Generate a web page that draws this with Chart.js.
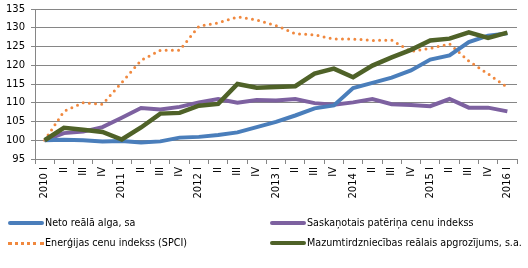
<!DOCTYPE html>
<html><head><meta charset="utf-8">
<script src="https://cdn.jsdelivr.net/npm/chart.js@4/dist/chart.umd.min.js"></script>
<style>
html,body{margin:0;padding:0;background:#fff;}
#wrap{position:relative;width:528px;height:268px;}
canvas{position:absolute;left:0;top:0;}
.lg{position:absolute;font:9.6px "DejaVu Sans",sans-serif;color:#000;white-space:nowrap;line-height:12px;}
.sw{position:absolute;width:36px;height:0;}
</style></head><body>
<div id="wrap"><canvas id="c" width="528" height="268"></canvas><div id="legend"></div></div>
<script>
const categories = ['2010 I','II','III','IV','2011 I','II','III','IV','2012 I','II','III','IV','2013 I','II','III','IV','2014 I','II','III','IV','2015 I','II','III','IV','2016 I'];
const seriesNames = ['Neto reālā alga, sa','Saskaņotais patēriņa cenu indekss','Enerģijas cenu indekss (SPCI)','Mazumtirdzniecības reālais apgrozījums, s.a.'];
const netoAlga = [100,100.1,100,99.7,99.8,99.4,99.7,100.7,100.9,101.4,102.1,103.5,104.9,106.6,108.5,109.3,113.9,115.3,116.7,118.6,121.5,122.6,126.2,127.9,128.5];
const spci = [100,101.9,102.3,103.5,106,108.6,108.2,108.9,110.1,111,110,110.7,110.6,111,109.9,109.5,110.1,111,109.6,109.4,109.1,111,108.7,108.7,107.7];
const energija = [100,107.7,110,109.6,115.4,121.3,124,124,130.4,131.3,132.9,132.1,130.6,128.4,128.1,127,127,126.6,126.7,123.7,124.5,125.7,121.1,117.7,114.1];
const mazumtirdz = [100,103.3,102.8,102.2,100.2,103.4,107.1,107.3,109.2,109.7,115,114,114.2,114.4,117.8,119.1,116.8,119.9,122.1,124.1,126.6,127.1,128.8,127.3,128.7];
const yTicks = {min:95, max:135, step:5};

const colors = ['#4A7EBB','#7D61A0','#F0883E','#4F6228'];
const FONT = {family:'"DejaVu Sans", sans-serif', size:10};

new Chart(document.getElementById('c'), {
  type:'line',
  data:{
    labels:categories,
    datasets:[
      {label:seriesNames[0], data:netoAlga, borderColor:colors[0], borderWidth:4, pointRadius:0, tension:0, order:1},
      {label:seriesNames[1], data:spci, borderColor:colors[1], borderWidth:4, pointRadius:0, tension:0, order:2},
      {label:seriesNames[2], data:energija, borderColor:colors[2], borderWidth:3, borderDash:[0,6.2], borderCapStyle:'round', pointRadius:0, tension:0, order:3},
      {label:seriesNames[3], data:mazumtirdz, borderColor:colors[3], borderWidth:4.5, pointRadius:0, tension:0, order:0}
    ]
  },
  options:{
    responsive:false, animation:false,
    layout:{padding:{left:0,right:11,top:9,bottom:59}},
    plugins:{legend:{display:false}, tooltip:{enabled:false}},
    scales:{
      x:{
        offset:true,
        grid:{offset:true, drawOnChartArea:false, drawTicks:true, tickLength:5, color:'#868686'},
        border:{display:true, color:'#868686'},
        ticks:{autoSkip:false, minRotation:90, maxRotation:90, padding:3, color:'#000', font:FONT},
        afterFit:(s)=>{s.height=50; s.paddingLeft=0; s.paddingRight=0;}
      },
      y:{
        min:yTicks.min, max:yTicks.max,
        grid:{color:'#868686', tickLength:4},
        border:{display:true, color:'#868686'},
        ticks:{stepSize:yTicks.step, padding:6, color:'#000', font:FONT},
        afterFit:(s)=>{s.width=35; s.paddingTop=0; s.paddingBottom=0;}
      }
    }
  }
});

const pos = [[8,223],[270,223],[8,243],[270,243]];
const lg = document.getElementById('legend');
seriesNames.forEach((n,i)=>{
  const sw = document.createElement('div');
  sw.className='sw';
  sw.style.left=pos[i][0]+'px';
  if(i===2){
    sw.style.top=(pos[i][1]-1.5)+'px';
    sw.style.borderTop='3px dotted '+colors[i];
  } else {
    sw.style.top=(pos[i][1]-2)+'px';
    sw.style.borderTop='4px solid '+colors[i];
    sw.style.borderRadius='2px';
  }
  lg.appendChild(sw);
  const t = document.createElement('div');
  t.className='lg';
  t.textContent=n;
  t.style.left=(pos[i][0]+37)+'px';
  t.style.top=(pos[i][1]-6)+'px';
  lg.appendChild(t);
});
</script>
</body></html>
